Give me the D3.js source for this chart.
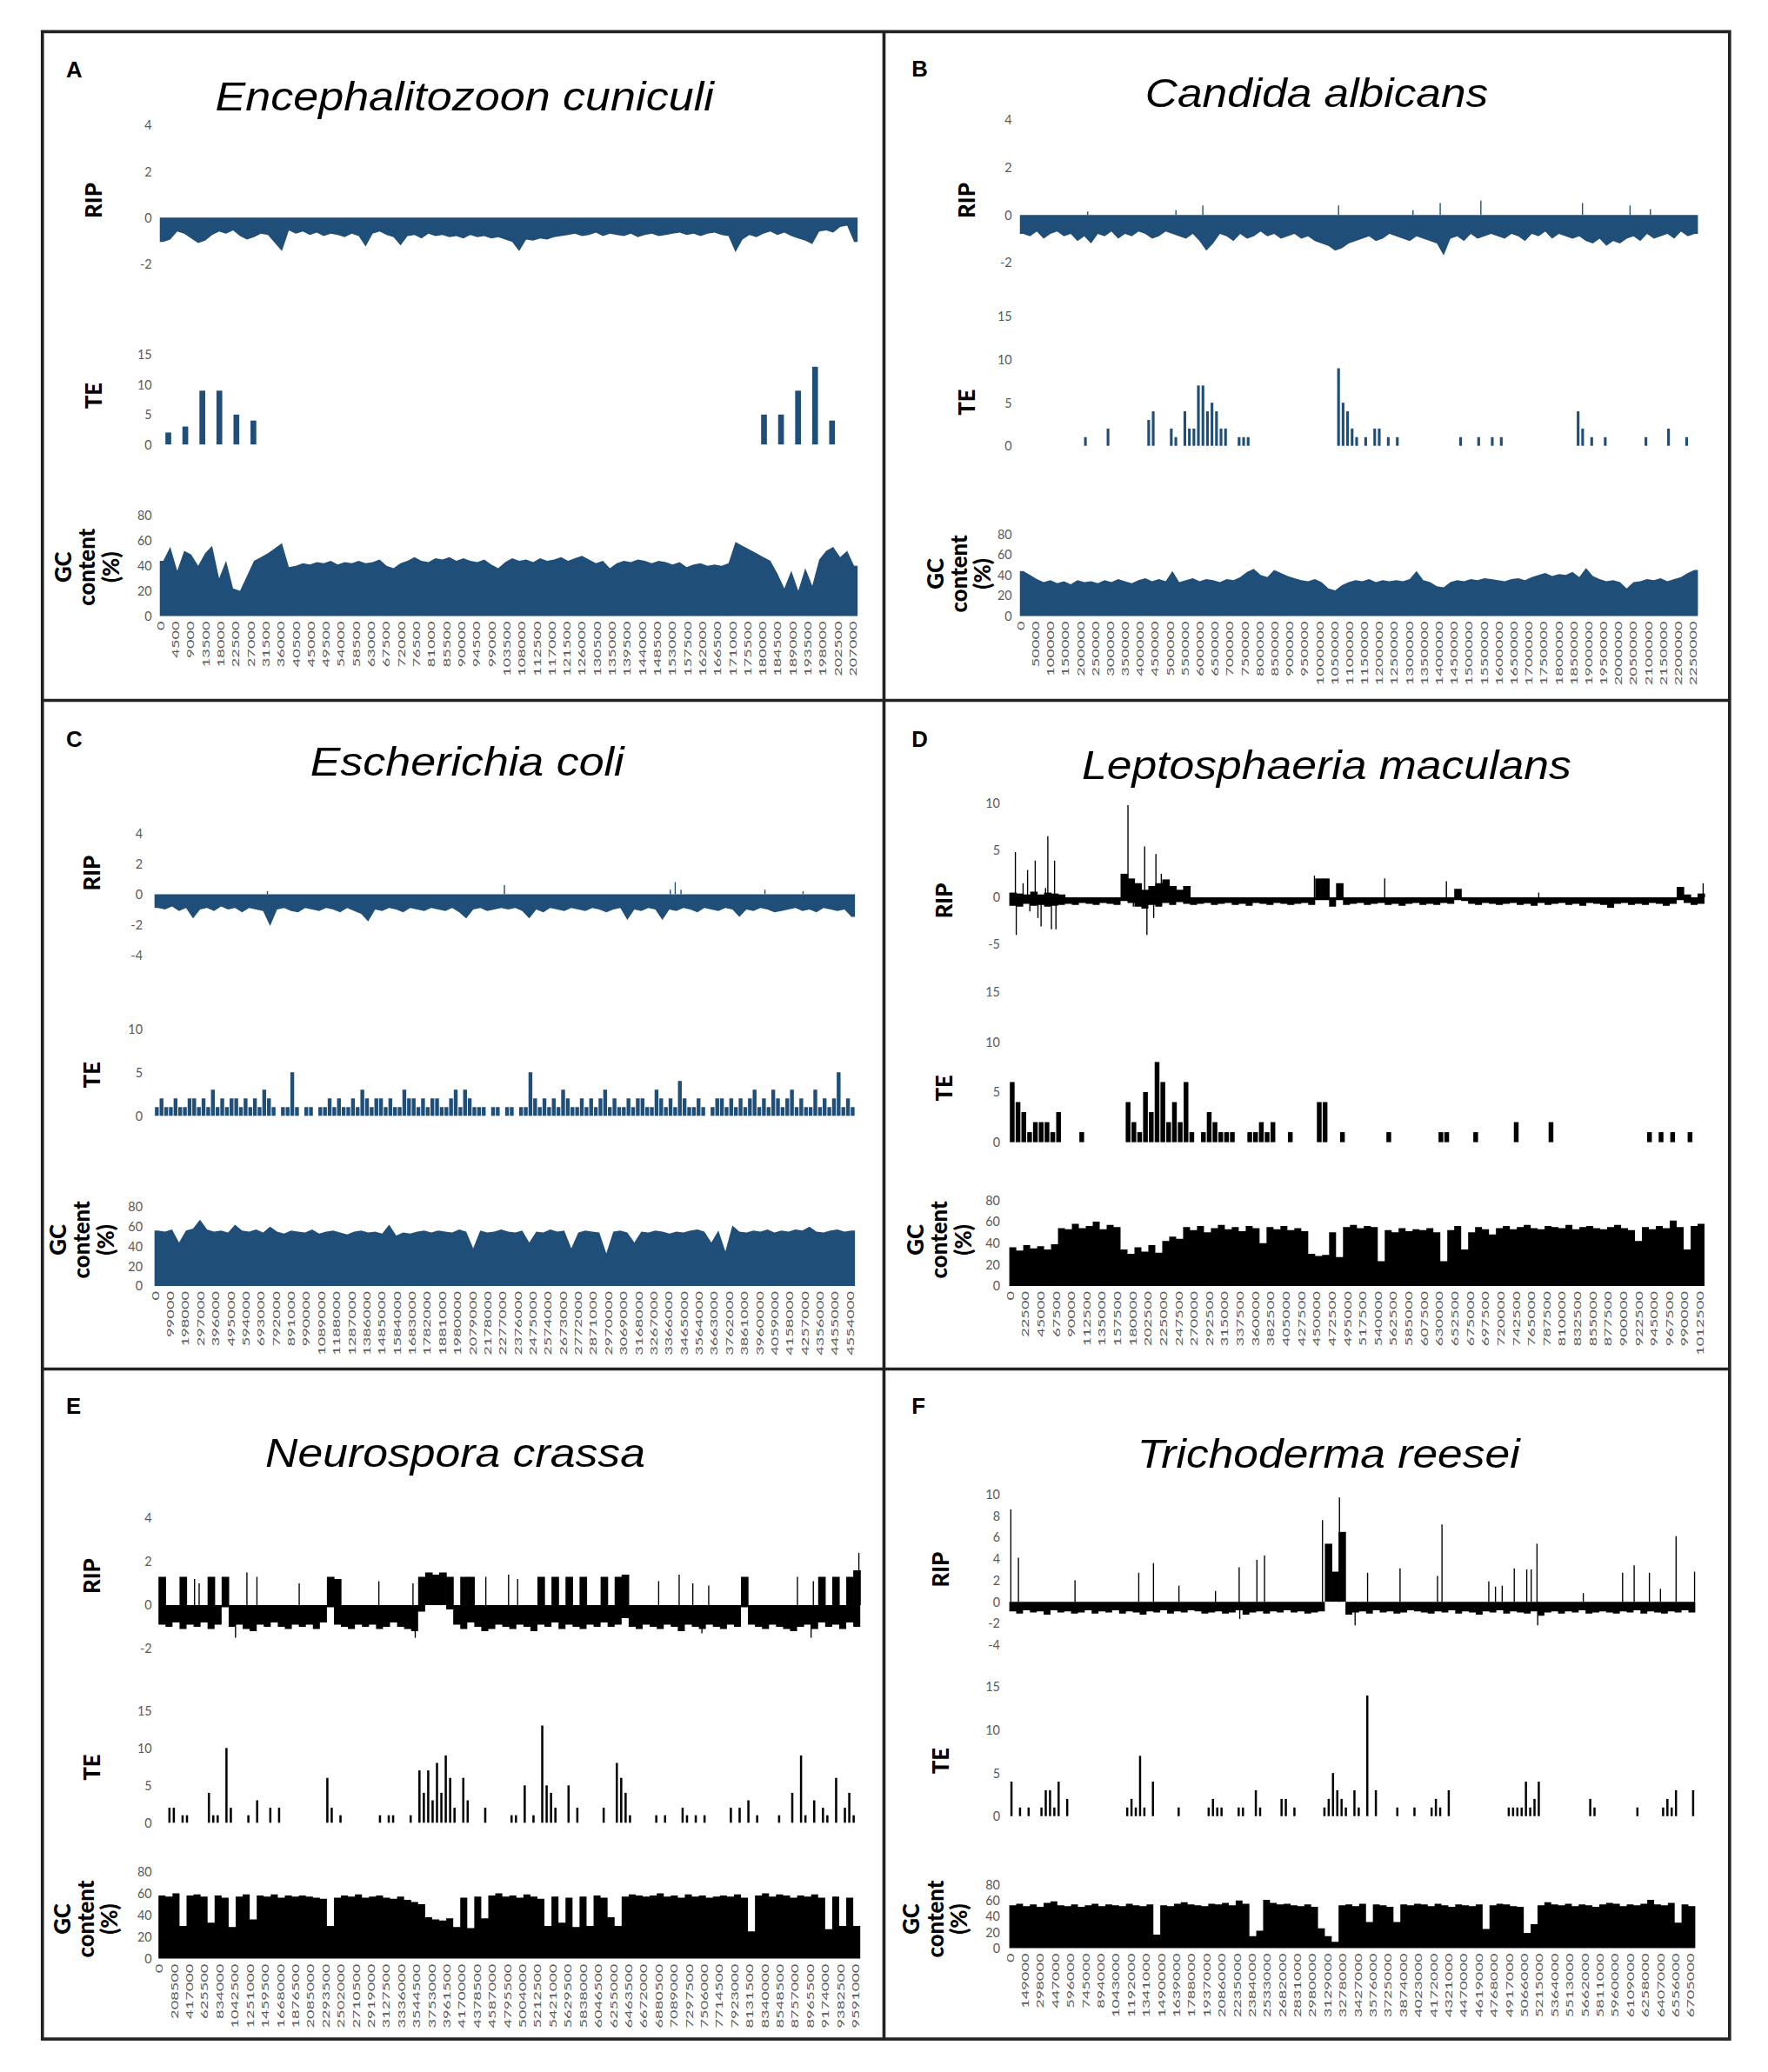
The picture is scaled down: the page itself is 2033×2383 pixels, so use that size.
<!DOCTYPE html>
<html>
<head>
<meta charset="utf-8">
<script src="https://cdn.jsdelivr.net/npm/d3@7"></script>
<style>
  body { margin: 0; background: #fff; }
  svg { display: block; }
</style>
</head>
<body>
<script>
// ---------- data ----------
// genome extent covered by each x axis (bp)
const lenA = 208600, lenB = 2268000, lenC = 4590000, lenD = 1020000, lenE = 9664000, lenF = 6757000;

// x tick labels
const ticksA = [0,4500,9000,13500,18000,22500,27000,31500,36000,40500,45000,49500,54000,58500,63000,67500,72000,76500,81000,85500,90000,94500,99000,103500,108000,112500,117000,121500,126000,130500,135000,139500,144000,148500,153000,157500,162000,166500,171000,175500,180000,184500,189000,193500,198000,202500,207000];
const ticksB = [0,50000,100000,150000,200000,250000,300000,350000,400000,450000,500000,550000,600000,650000,700000,750000,800000,850000,900000,950000,1000000,1050000,1100000,1150000,1200000,1250000,1300000,1350000,1400000,1450000,1500000,1550000,1600000,1650000,1700000,1750000,1800000,1850000,1900000,1950000,2000000,2050000,2100000,2150000,2200000,2250000];
const ticksC = [0,99000,198000,297000,396000,495000,594000,693000,792000,891000,990000,1089000,1188000,1287000,1386000,1485000,1584000,1683000,1782000,1881000,1980000,2079000,2178000,2277000,2376000,2475000,2574000,2673000,2772000,2871000,2970000,3069000,3168000,3267000,3366000,3465000,3564000,3663000,3762000,3861000,3960000,4059000,4158000,4257000,4356000,4455000,4554000];
const ticksD = [0,22500,45000,67500,90000,112500,135000,157500,180000,202500,225000,247500,270000,292500,315000,337500,360000,382500,405000,427500,450000,472500,495000,517500,540000,562500,585000,607500,630000,652500,675000,697500,720000,742500,765000,787500,810000,832500,855000,877500,900000,922500,945000,967500,990000,1012500];
const ticksE = [0,208500,417000,625500,834000,1042500,1251000,1459500,1668000,1876500,2085000,2293500,2502000,2710500,2919000,3127500,3336000,3544500,3753000,3961500,4170000,4378500,4587000,4795500,5004000,5212500,5421000,5629500,5838000,6046500,6255000,6463500,6672000,6880500,7089000,7297500,7506000,7714500,7923000,8131500,8340000,8548500,8757000,8965500,9174000,9382500,9591000];
const ticksF = [0,149000,298000,447000,596000,745000,894000,1043000,1192000,1341000,1490000,1639000,1788000,1937000,2086000,2235000,2384000,2533000,2682000,2831000,2980000,3129000,3278000,3427000,3576000,3725000,3874000,4023000,4172000,4321000,4470000,4619000,4768000,4917000,5066000,5215000,5364000,5513000,5662000,5811000,5960000,6109000,6258000,6407000,6556000,6705000];

// y tick labels
const ripTicks24 = [-2, 0, 2, 4];
const ripTicks44 = [-4, -2, 0, 2, 4];
const ripTicks510 = [-5, 0, 5, 10];
const ripTicks410 = [-4, -2, 0, 2, 4, 6, 8, 10];
const teTicks15 = [0, 5, 10, 15];
const teTicks10 = [0, 5, 10];
const gcTicks = [0, 20, 40, 60, 80];

// RIP index: lower edge of each window (and upper edge where it rises above 0)
const ripLoA = [
  -1.05,-0.95,-0.6,-0.7,-0.9,-1.1,-1.0,-0.75,-0.6,-0.7,
  -0.55,-0.8,-0.95,-0.85,-0.7,-0.75,-1.1,-1.45,-0.55,-0.7,
  -0.6,-0.75,-0.65,-0.8,-0.7,-0.75,-0.85,-0.7,-0.8,-1.25,
  -0.7,-0.6,-0.75,-0.85,-1.2,-0.8,-0.75,-0.9,-0.7,-0.8,
  -0.75,-0.85,-0.8,-0.9,-0.75,-0.85,-0.8,-0.9,-0.85,-0.95,
  -1.05,-1.45,-0.95,-1.0,-0.9,-0.95,-0.85,-0.8,-0.75,-0.7,
  -0.8,-0.75,-0.65,-0.8,-0.7,-0.75,-0.8,-0.7,-0.85,-0.75,
  -0.7,-0.8,-0.75,-0.7,-0.65,-0.75,-0.7,-0.8,-0.7,-0.65,
  -0.75,-0.8,-1.5,-0.95,-0.75,-0.85,-0.7,-0.6,-0.75,-0.65,
  -0.8,-0.9,-1.0,-1.15,-0.6,-0.55,-0.65,-0.4,-0.35,-1.05];

const ripLoB = [
  -0.8,-0.9,-0.7,-1.0,-0.8,-0.7,-0.9,-0.8,-1.1,-0.9,
  -1.2,-0.8,-0.9,-0.7,-1.0,-0.8,-0.9,-0.7,-0.8,-1.0,
  -0.9,-0.7,-0.8,-0.9,-1.0,-0.8,-1.1,-1.5,-1.2,-0.8,
  -0.9,-1.1,-0.8,-1.0,-0.9,-0.7,-0.9,-0.8,-1.0,-0.9,
  -0.8,-1.0,-0.9,-1.1,-1.2,-1.3,-1.5,-1.4,-1.2,-1.1,
  -1.0,-0.9,-1.1,-1.0,-0.8,-0.9,-1.0,-1.1,-0.9,-1.0,
  -1.1,-1.2,-1.7,-1.0,-0.9,-1.1,-0.8,-1.0,-0.9,-0.8,
  -0.9,-1.0,-0.8,-0.9,-1.1,-0.8,-0.9,-0.7,-1.0,-0.8,
  -0.9,-1.0,-0.9,-1.1,-1.2,-1.0,-1.3,-1.1,-1.2,-1.0,
  -0.9,-1.1,-0.8,-1.0,-0.9,-0.8,-1.0,-0.7,-0.9,-0.8];
const ripSpikePosB = [227000,522000,612000,1066000,1315000,1406000,1542000,1882000,2041000,2109000];
const ripSpikeValB = [0.15,0.2,0.4,0.4,0.2,0.5,0.6,0.5,0.4,0.25];

const ripLoC = [
  -0.9,-1.0,-0.8,-1.1,-0.9,-1.6,-1.0,-0.9,-1.1,-0.8,
  -1.0,-0.9,-1.2,-0.9,-1.0,-1.1,-2.1,-1.0,-0.9,-1.1,
  -1.2,-0.9,-1.0,-1.1,-0.9,-1.0,-1.2,-0.9,-1.1,-1.3,
  -1.8,-1.0,-1.1,-0.9,-1.0,-1.2,-0.9,-1.0,-1.1,-0.9,
  -1.0,-1.1,-0.9,-1.2,-1.6,-1.0,-0.9,-1.1,-1.0,-0.9,
  -1.0,-0.9,-1.1,-1.6,-1.0,-1.2,-0.9,-1.0,-1.1,-0.9,
  -1.0,-1.1,-0.9,-1.0,-1.2,-1.0,-0.9,-1.7,-1.0,-1.1,
  -0.9,-1.0,-1.7,-1.0,-1.1,-0.9,-1.0,-1.2,-0.9,-1.0,
  -1.1,-0.9,-1.0,-1.5,-1.0,-1.1,-0.9,-1.0,-1.2,-1.1,
  -1.0,-0.9,-1.1,-1.0,-1.2,-0.9,-1.0,-1.1,-1.0,-1.5];
const ripSpikePosC = [740000,2293000,3380000,3412000,3450000,4000000,4250000];
const ripSpikeValC = [0.2,0.6,0.3,0.8,0.3,0.3,0.2];

const ripLoD = [
  -0.9,-1.0,-0.7,-0.9,-0.8,-1.0,-0.9,-0.8,-0.7,-0.8,
  -0.6,-0.7,-0.8,-0.6,-0.7,-0.8,-0.4,-0.6,-1.0,-1.2,
  -0.8,-1.0,-0.6,-0.8,-0.5,-0.7,-0.8,-0.7,-0.6,-0.8,
  -0.7,-0.6,-0.8,-0.7,-0.9,-0.6,-0.7,-0.8,-0.6,-0.7,
  -0.8,-0.7,-0.6,-0.8,-0.3,-0.3,-1.0,-0.3,-0.8,-0.7,
  -0.6,-0.8,-0.7,-0.6,-0.8,-0.7,-0.9,-0.7,-0.6,-0.8,
  -0.7,-0.8,-0.6,-0.7,-0.3,-0.4,-0.7,-0.8,-0.6,-0.7,
  -0.8,-0.7,-0.6,-0.8,-0.7,-0.9,-0.6,-0.8,-0.7,-0.6,
  -0.8,-0.7,-0.9,-0.6,-0.7,-0.8,-1.1,-0.7,-0.6,-0.8,
  -0.7,-0.8,-0.6,-0.7,-0.9,-0.7,-0.3,-0.6,-0.8,-0.7];
const ripHiD = [
  0.5,0.4,0.3,0.6,0.3,0.5,0.4,0.3,0,0,
  0,0,0,0,0,0,2.5,2.0,1.5,0.8,
  1.2,1.5,1.9,1.2,0.8,1.2,0,0,0,0,
  0,0,0,0,0,0,0,0,0,0,
  0,0,0,0,2.0,2.0,0,1.5,0,0,
  0,0,0,0,0,0,0,0,0,0,
  0,0,0,0,0.9,0,0,0,0,0,
  0,0,0,0,0,0,0,0,0,0,
  0,0,0,0,0,0,0,0,0,0,
  0,0,0,0,0,0,1.1,0.3,0,0.4];
const ripSpikePosD = [8900,10200,20200,26800,30100,38000,42000,46600,53200,56500,61800,66400,68400,174100,182000,198600,201900,211800,215100,223000,447700,550800,641300,776800,1018000];
const ripSpikeValD = [4.8,-4.0,1.5,2.9,-1.5,3.9,-2.2,-3.1,1.0,6.5,-3.4,3.9,-3.4,9.8,-1.0,5.4,-4.0,-2.2,4.6,2.5,2.3,2.0,1.7,0.5,1.5];

const ripLoE = [
  -0.9,-1.0,-0.8,-1.1,-0.9,-1.0,-0.8,-1.1,-0.9,-0.1,
  -1.0,-0.9,-1.1,-1.2,-0.9,-1.0,-0.8,-1.0,-1.1,-0.9,
  -1.0,-0.9,-1.1,-0.8,-0.1,-0.9,-1.0,-1.1,-0.9,-1.0,
  -0.9,-1.1,-1.0,-0.8,-1.0,-1.1,-1.2,-0.3,0,0,
  0,-0.2,-0.9,-1.1,-0.8,-1.0,-1.2,-1.1,-0.9,-1.0,
  -1.1,-0.9,-1.0,-1.2,-0.9,-1.0,-0.8,-1.1,-0.9,-1.0,
  -1.1,-0.9,-1.0,-0.8,-1.0,-0.9,-0.6,-1.0,-1.1,-0.9,
  -1.0,-1.1,-0.9,-1.0,-1.2,-0.9,-1.0,-1.1,-0.9,-1.0,
  -1.1,-0.9,-1.0,-0.1,-0.9,-1.0,-1.1,-0.9,-1.0,-1.1,
  -1.2,-1.0,-0.9,-1.1,-0.8,-1.0,-0.9,-1.1,-0.8,-1.0];
const ripHiE = [
  1.3,0,0,1.3,0,0,0,1.3,0,1.3,
  0,0,0,0,0,0,0,0,0,0,
  0,0,0,0,1.3,1.2,0,0,0,0,
  0,0,0,0,0,0,0,1.3,1.5,1.4,
  1.5,1.3,0,1.3,1.3,0,0,0,0,0,
  0,0,0,0,1.3,0,1.3,0,1.3,0,
  1.3,0,0,1.3,0,1.3,1.4,0,0,0,
  0,0,0,0,0,0,0,0,0,0,
  0,0,0,1.3,0,0,0,0,0,0,
  0,0,0,0,1.3,0,1.3,0,1.3,1.6];
const ripSpikePosE = [497000,560000,1061000,1218000,1356000,1938000,3035000,3505000,3536000,4508000,4821000,4946000,6888000,7170000,7358000,7483000,7577000,8799000,8987000,9018000,9645000];
const ripSpikeValE = [1.2,1.0,-1.5,1.5,1.3,1.0,1.1,1.0,-1.5,1.3,1.4,1.2,1.1,1.4,1.0,-1.3,0.9,1.3,-1.5,1.1,2.4];

const ripLoF = [
  -0.9,-1.1,-0.8,-1.0,-0.9,-1.2,-0.8,-1.0,-0.9,-1.1,
  -1.0,-0.8,-1.1,-0.9,-1.0,-0.8,-1.1,-0.9,-1.0,-1.2,
  -0.9,-1.0,-0.8,-1.1,-0.9,-1.0,-0.8,-0.9,-1.1,-1.0,
  -0.9,-1.1,-1.0,-0.8,-1.2,-1.0,-0.9,-1.1,-0.9,-1.0,
  -0.8,-1.0,-0.9,-1.1,-1.0,-0.9,0,0,0,-1.2,
  -1.0,-0.9,-1.1,-0.8,-1.0,-0.9,-1.1,-1.0,-0.8,-0.9,
  -1.0,-1.1,-0.9,-1.0,-0.8,-1.1,-0.9,-1.0,-1.2,-0.9,
  -1.0,-0.8,-1.1,-0.9,-1.0,-1.1,-0.9,-1.3,-1.0,-0.9,
  -1.1,-0.9,-1.0,-0.8,-1.1,-1.0,-0.9,-1.0,-1.1,-0.9,
  -1.0,-0.8,-1.1,-0.9,-1.0,-1.1,-0.9,-1.0,-0.8,-1.0];
const ripHiF = [
  0,0,0,0,0,0,0,0,0,0,
  0,0,0,0,0,0,0,0,0,0,
  0,0,0,0,0,0,0,0,0,0,
  0,0,0,0,0,0,0,0,0,0,
  0,0,0,0,0,0,5.4,2.8,6.5,0,
  0,0,0,0,0,0,0,0,0,0,
  0,0,0,0,0,0,0,0,0,0,
  0,0,0,0,0,0,0,0,0,0,
  0,0,0,0,0,0,0,0,0,0,
  0,0,0,0,0,0,0,0,0,0];
const ripSpikePosF = [15000,90000,647000,1275000,1420000,1671000,2031000,2264000,2270000,2439000,2514000,3085000,3252000,3406000,3529000,3849000,4218000,4262000,4723000,4789000,4855000,4974000,5097000,5141000,5198000,5205000,5654000,6041000,6155000,6305000,6414000,6568000,6750000];
const ripSpikeValF = [8.6,4.1,2.0,2.7,3.6,1.5,1.0,3.2,-1.6,3.9,4.3,7.6,9.7,-2.2,2.7,3.1,2.4,7.2,1.9,1.4,1.5,3.1,3.0,3.0,5.4,-2.2,0.8,2.7,3.4,2.7,1.2,6.1,2.8];

// TE counts per window
const teA = [
  2,3,9,9,5,4,0,0,0,0,
  0,0,0,0,0,0,0,0,0,0,
  0,0,0,0,0,0,0,0,0,0,
  0,0,0,0,0,5,5,9,13,4,
  0];
const teB = [
  0,0,0,0,0,0,0,0,0,0,
  0,0,0,0,1,0,0,0,0,2,
  0,0,0,0,0,0,0,0,3,4,
  0,0,0,2,1,0,4,2,2,7,
  7,4,5,4,2,2,0,0,1,1,
  1,0,0,0,0,0,0,0,0,0,
  0,0,0,0,0,0,0,0,0,0,
  9,5,4,2,1,0,1,0,2,2,
  0,1,0,1,0,0,0,0,0,0,
  0,0,0,0,0,0,0,1,0,0,
  0,1,0,0,1,0,1,0,0,0,
  0,0,0,0,0,0,0,0,0,0,
  0,0,0,4,2,0,1,0,0,1,
  0,0,0,0,0,0,0,0,1,0,
  0,0,0,2,0,0,0,1,0,0];
const teC = [
  1,2,1,1,2,1,1,2,2,1,
  2,1,3,1,2,1,2,2,1,2,
  1,2,1,3,2,1,0,1,1,5,
  1,0,1,1,0,1,1,2,1,2,
  1,1,2,1,3,2,1,2,2,1,
  2,1,1,3,2,2,1,2,1,2,
  2,1,1,2,3,1,3,2,1,1,
  1,0,1,1,0,1,1,0,1,1,
  5,2,1,2,1,2,1,3,2,1,
  1,2,1,2,1,2,3,1,2,1,
  1,2,1,2,2,1,1,3,2,1,
  2,1,4,2,1,1,2,1,0,1,
  2,2,1,2,1,2,1,2,3,1,
  2,1,3,2,1,2,3,1,2,1,
  1,3,1,2,1,2,5,1,2,1];
const teD = [
  6,4,3,1,2,2,2,1,3,0,
  0,0,1,0,0,0,0,0,0,0,
  4,2,1,5,3,8,6,2,4,2,
  6,1,0,1,3,2,1,1,1,0,
  0,1,1,2,1,2,0,0,1,0,
  0,0,0,4,4,0,0,1,0,0,
  0,0,0,0,0,1,0,0,0,0,
  0,0,0,0,1,1,0,0,0,0,
  1,0,0,0,0,0,0,2,0,0,
  0,0,0,2,0,0,0,0,0,0,
  0,0,0,0,0,0,0,0,0,0,
  1,0,1,0,1,0,0,1,0,0];
const teE = [
  0,0,2,2,0,1,1,0,0,0,
  0,4,1,1,0,10,2,0,0,0,
  1,0,3,0,0,2,0,2,0,0,
  0,0,0,0,0,0,0,0,6,2,
  0,1,0,0,0,0,0,0,0,0,
  1,0,1,1,0,0,0,1,0,7,
  4,7,3,8,4,9,6,2,0,6,
  3,0,0,0,2,0,0,0,0,0,
  1,1,0,5,0,1,0,13,5,4,
  2,0,0,5,0,2,0,0,0,0,
  0,2,0,0,8,6,4,1,0,0,
  0,0,0,1,0,1,0,0,0,2,
  1,0,1,0,1,0,0,0,0,0,
  2,0,2,0,3,0,1,0,0,0,
  0,1,0,0,4,0,9,1,0,3,
  0,2,1,0,6,0,2,4,1,0];
const teF = [
  4,0,1,0,1,0,0,1,3,3,
  1,4,0,2,0,0,0,0,0,0,
  0,0,0,0,0,0,0,1,2,1,
  7,1,0,4,0,0,0,0,0,1,
  0,0,0,0,0,0,1,2,1,1,
  0,0,0,1,1,0,0,3,1,0,
  0,0,0,2,2,0,1,0,0,0,
  0,0,0,1,2,5,3,2,1,0,
  3,1,0,14,0,3,0,0,0,0,
  1,0,0,0,1,0,0,0,1,2,
  1,0,3,0,0,0,0,0,0,0,
  0,0,0,0,0,0,1,1,1,1,
  4,1,2,4,0,0,0,0,0,0,
  0,0,0,0,0,2,1,0,0,0,
  0,0,0,0,0,0,1,0,0,0,
  0,0,1,2,1,3,0,0,0,3];

// GC content (%) per window
const gcA = [
  44,55,36,52,49,40,50,56,30,44,
  22,20,32,44,47,50,54,58,39,40,
  42,41,43,42,44,41,43,42,44,42,
  43,45,40,38,42,44,47,44,43,46,
  45,47,44,46,44,43,45,41,38,43,
  46,44,45,43,46,44,45,47,44,46,
  48,45,42,44,38,42,44,43,45,44,
  42,44,43,41,43,39,41,42,40,41,
  40,42,59,56,53,50,47,44,34,22,
  36,20,38,24,45,52,55,47,52,40];
const gcB = [
  44,40,36,33,35,32,34,31,35,33,
  34,32,35,33,36,34,32,35,37,34,
  36,34,44,33,35,37,34,36,35,33,
  36,35,38,43,46,40,38,45,42,39,
  37,35,34,36,33,27,25,30,33,35,
  34,36,33,35,34,35,34,36,44,35,
  33,29,28,33,35,34,36,35,37,36,
  35,34,36,37,35,38,40,42,39,41,
  40,43,38,47,39,36,34,35,33,27,
  33,34,36,35,37,34,36,38,42,45];
const gcC = [
  56,55,57,44,56,58,67,57,55,56,
  54,62,56,55,57,54,60,55,53,56,
  55,54,57,53,55,56,54,52,55,56,
  54,55,53,62,51,54,53,55,56,54,
  56,55,54,57,55,38,56,54,55,57,
  55,54,56,44,55,54,57,55,56,38,
  54,56,55,54,33,55,56,54,44,55,
  54,56,55,53,55,54,56,57,55,44,
  56,35,61,55,54,56,55,57,54,56,
  55,57,56,60,55,54,56,57,55,56];
const gcD = [
  36,33,38,35,37,34,39,54,53,58,
  54,56,60,53,57,55,34,30,36,32,
  38,31,42,46,44,55,52,56,50,54,
  57,53,55,51,56,54,40,55,53,56,
  52,54,51,30,28,29,50,27,55,57,
  54,56,55,23,52,50,54,51,53,52,
  54,50,23,52,56,34,50,55,53,48,
  54,56,53,55,57,54,53,56,55,54,
  57,53,55,56,54,53,55,57,54,52,
  42,55,53,56,54,61,55,34,56,58];
const gcE = [
  58,57,60,30,58,59,57,33,58,56,
  29,57,59,36,58,57,59,56,58,57,
  58,57,56,55,30,56,58,57,59,56,
  57,58,56,55,57,54,52,50,38,36,
  35,37,29,56,28,57,37,58,60,57,
  58,56,59,57,55,30,57,33,56,29,
  57,30,58,56,38,30,57,59,58,57,
  58,60,57,58,56,59,57,58,56,57,
  58,57,59,56,25,58,60,57,59,58,
  56,58,57,59,56,27,57,30,56,30];
const gcF = [
  54,56,53,55,52,57,59,54,53,55,
  52,54,56,53,55,54,53,56,54,53,
  55,17,54,53,56,58,55,54,53,56,
  55,57,54,60,56,15,22,61,57,55,
  56,54,53,55,52,25,15,8,54,55,
  53,56,33,55,54,52,33,55,54,56,
  55,53,56,54,52,55,54,53,55,24,
  54,56,55,53,52,19,30,54,58,55,
  54,56,53,55,54,52,55,57,56,53,
  55,54,56,61,55,54,57,32,55,53];

// ---------- layout ----------
const blue = '#1f4e79';
const sans = "'Liberation Sans', Arial, sans-serif";
const lab = "Lato, 'Open Sans', sans-serif";
const plain = d => String(d);

const panels = [
  {letter: 'A', lx: 50, ly: 59, title: 'Encephalitozoon cuniculi', tx: 163, ty: 84, tw: 378,
   color: blue, curve: d3.curveLinear, len: lenA, xr: [121, 650], tickX: 115, xlabY: 471, xt: ticksA,
   ripLo: ripLoA, ripDom: [-2, 4], ripRng: [200, 95], ripTicks: ripTicks24, ripLab: [71, 152],
   te: teA, teFrac: 0.34, teDom: [0, 15], teRng: [337, 269], teTicks: teTicks15, teLab: [71, 300],
   gc: gcA, gcRng: [467, 391], gcLab: [66, 430]},
  {letter: 'B', lx: 691, ly: 58, title: 'Candida albicans', tx: 868, ty: 81, tw: 260,
   color: blue, curve: d3.curveLinear, len: lenB, xr: [773, 1287], tickX: 767, xlabY: 471, xt: ticksB,
   ripLo: ripLoB, spPos: ripSpikePosB, spVal: ripSpikeValB, ripDom: [-2, 4], ripRng: [199, 91], ripTicks: ripTicks24, ripLab: [733, 152],
   te: teB, teFrac: 0.6, teDom: [0, 15], teRng: [338, 240], teTicks: teTicks15, teLab: [733, 305],
   gc: gcB, gcRng: [467, 405], gcLab: [727, 435]},
  {letter: 'C', lx: 50, ly: 566, title: 'Escherichia coli', tx: 235, ty: 588, tw: 238,
   color: blue, curve: d3.curveLinear, len: lenC, xr: [117, 648], tickX: 108, xlabY: 979, xt: ticksC,
   ripLo: ripLoC, spPos: ripSpikePosC, spVal: ripSpikeValC, ripDom: [-4, 4], ripRng: [724, 632], ripTicks: ripTicks44, ripLab: [70, 662],
   te: teC, teFrac: 0.82, teDom: [0, 10], teRng: [846, 780], teTicks: teTicks10, teLab: [70, 815],
   gc: gcC, gcRng: [975, 915], gcLab: [62, 940]},
  {letter: 'D', lx: 691, ly: 566, title: 'Leptosphaeria maculans', tx: 820, ty: 591, tw: 371,
   color: '#000', curve: d3.curveStep, len: lenD, xr: [765, 1292], tickX: 758, xlabY: 979, xt: ticksD,
   ripLo: ripLoD, ripHi: ripHiD, spPos: ripSpikePosD, spVal: ripSpikeValD, ripDom: [-5, 10], ripRng: [716, 609], ripTicks: ripTicks510, ripLab: [716, 683],
   te: teD, teFrac: 0.82, teDom: [0, 15], teRng: [866, 752], teTicks: teTicks15, teLab: [716, 825],
   gc: gcD, gcRng: [975, 910], gcLab: [712, 940]},
  {letter: 'E', lx: 50, ly: 1072, title: 'Neurospora crassa', tx: 201, ty: 1112, tw: 288,
   color: '#000', curve: d3.curveStep, len: lenE, xr: [120, 652], tickX: 115, xlabY: 1489, xt: ticksE,
   ripLo: ripLoE, ripHi: ripHiE, spPos: ripSpikePosE, spVal: ripSpikeValE, ripDom: [-2, 4], ripRng: [1250, 1151], ripTicks: ripTicks24, ripLab: [70, 1195],
   te: teE, teFrac: 0.5, teDom: [0, 15], teRng: [1382, 1297], teTicks: teTicks15, teLab: [70, 1340],
   gc: gcE, gcRng: [1485, 1419], gcLab: [65, 1455]},
  {letter: 'F', lx: 691, ly: 1072, title: 'Trichoderma reesei', tx: 862, ty: 1113, tw: 290,
   color: '#000', curve: d3.curveStep, len: lenF, xr: [765, 1285], tickX: 758, xlabY: 1481, xt: ticksF,
   ripLo: ripLoF, ripHi: ripHiF, spPos: ripSpikePosF, spVal: ripSpikeValF, ripDom: [-4, 10], ripRng: [1247, 1133], ripTicks: ripTicks410, ripLab: [713, 1190],
   te: teF, teFrac: 0.5, teDom: [0, 15], teRng: [1377, 1279], teTicks: teTicks15, teLab: [713, 1335],
   gc: gcF, gcRng: [1477, 1429], gcLab: [709, 1455]}
];

const svg = d3.select('body').append('svg')
    .attr('width', 2033)
    .attr('height', 2383)
    .attr('viewBox', '0 0 1340 1571');

svg.append('rect').attr('width', 1340).attr('height', 1571).attr('fill', '#fff');

// panel frame
const frame = svg.append('g').attr('fill', 'none').attr('stroke', '#222').attr('stroke-width', 2.4);
frame.append('rect').attr('x', 32).attr('y', 24).attr('width', 1279).attr('height', 1522);
frame.append('line').attr('x1', 670).attr('x2', 670).attr('y1', 24).attr('y2', 1546);
[531, 1038].forEach(y => frame.append('line').attr('x1', 32).attr('x2', 1311).attr('y1', y).attr('y2', y));

function rotLabel(g, text, cx, cy) {
  g.append('text')
      .attr('transform', `translate(${cx},${cy}) rotate(-90)`)
      .attr('text-anchor', 'middle')
      .attr('dy', '0.35em')
      .attr('font-family', lab)
      .attr('font-weight', 900)
      .attr('font-size', 17)
      .text(text);
}

function yAxis(g, p, scale, ticks) {
  const a = g.append('g')
      .attr('transform', `translate(${p.tickX},0)`)
      .call(d3.axisLeft(scale).tickValues(ticks).tickFormat(plain).tickSize(0).tickPadding(0));
  a.select('.domain').remove();
  a.selectAll('text')
      .attr('font-family', lab)
      .attr('font-size', 9.5)
      .attr('fill', '#595959');
}

// windows as points at their centres, padded to both plot edges
function windowPoints(values) {
  const pts = values.map((v, i) => ({i, v}));
  return [{i: -0.5, v: values[0]}, ...pts, {i: values.length - 0.5, v: values[values.length - 1]}];
}

function drawPanel(p) {
  const g = svg.append('g');
  const x = d3.scaleLinear().domain([0, p.len]).range(p.xr);

  g.append('text').text(p.letter)
      .attr('x', p.lx).attr('y', p.ly)
      .attr('font-family', sans).attr('font-weight', 'bold').attr('font-size', 17);
  g.append('text').text(p.title)
      .attr('x', p.tx).attr('y', p.ty)
      .attr('font-family', sans).attr('font-style', 'italic').attr('font-size', 30)
      .attr('textLength', p.tw).attr('lengthAdjust', 'spacingAndGlyphs');

  // RIP: negative band as an area, positive blocks as columns, thin spikes as lines
  const yR = d3.scaleLinear().domain(p.ripDom).range(p.ripRng);
  const xR = d3.scaleLinear().domain([-0.5, p.ripLo.length - 0.5]).range(p.xr);
  g.append('path')
      .datum(windowPoints(p.ripLo))
      .attr('fill', p.color)
      .attr('d', d3.area().curve(p.curve).x(d => xR(d.i)).y0(yR(0)).y1(d => yR(d.v)));
  if (p.ripHi) {
    const bR = d3.scaleBand().domain(d3.range(p.ripHi.length)).range(p.xr);
    g.append('g').attr('fill', p.color)
      .selectAll('rect')
      .data(p.ripHi.map((v, i) => ({v, i})).filter(d => d.v > 0))
      .join('rect')
        .attr('x', d => bR(d.i))
        .attr('width', bR.bandwidth() + 0.4)
        .attr('y', d => yR(d.v))
        .attr('height', d => yR(0) - yR(d.v));
  }
  if (p.spPos) {
    g.append('g').attr('stroke', p.color).attr('stroke-width', 0.9)
      .selectAll('line')
      .data(p.spPos)
      .join('line')
        .attr('x1', d => x(d)).attr('x2', d => x(d))
        .attr('y1', yR(0))
        .attr('y2', (d, i) => yR(p.spVal[i]));
  }
  yAxis(g, p, yR, p.ripTicks);
  rotLabel(g, 'RIP', p.ripLab[0], p.ripLab[1]);

  // TE
  const yT = d3.scaleLinear().domain(p.teDom).range(p.teRng);
  const bT = d3.scaleBand().domain(d3.range(p.te.length)).range(p.xr)
      .paddingInner(1 - p.teFrac).paddingOuter((1 - p.teFrac) / 2);
  g.append('g').attr('fill', p.color)
    .selectAll('rect')
    .data(p.te.map((v, i) => ({v, i})).filter(d => d.v > 0))
    .join('rect')
      .attr('x', d => bT(d.i))
      .attr('width', bT.bandwidth())
      .attr('y', d => yT(d.v))
      .attr('height', d => yT(0) - yT(d.v));
  yAxis(g, p, yT, p.teTicks);
  rotLabel(g, 'TE', p.teLab[0], p.teLab[1]);

  // GC content
  const yG = d3.scaleLinear().domain([0, 80]).range(p.gcRng);
  const xG = d3.scaleLinear().domain([-0.5, p.gc.length - 0.5]).range(p.xr);
  g.append('path')
      .datum(windowPoints(p.gc))
      .attr('fill', p.color)
      .attr('d', d3.area().curve(p.curve).x(d => xG(d.i)).y0(yG(0)).y1(d => yG(d.v)));
  yAxis(g, p, yG, gcTicks);
  const gl = g.append('g').attr('transform', `translate(${p.gcLab[0]},${p.gcLab[1]}) rotate(-90)`);
  ['GC', 'content', '(%)'].forEach((t, k) => {
    gl.append('text').text(t)
        .attr('x', 0).attr('y', (k - 1) * 18)
        .attr('dy', '0.35em')
        .attr('text-anchor', 'middle')
        .attr('font-family', lab).attr('font-weight', 900).attr('font-size', 17);
  });

  // x axis labels
  const xa = g.append('g')
      .attr('transform', `translate(0,${p.xlabY})`)
      .call(d3.axisBottom(x).tickValues(p.xt).tickSize(0).tickPadding(0).tickFormat(plain));
  xa.select('.domain').remove();
  xa.selectAll('text')
      .attr('x', 0).attr('y', 0).attr('dy', '0.35em')
      .attr('text-anchor', 'end')
      .attr('transform', 'rotate(-90) scale(1.5,1)')
      .attr('font-family', lab)
      .attr('font-size', 8)
      .attr('fill', '#595959');
}

panels.forEach(drawPanel);
</script>
</body>
</html>
